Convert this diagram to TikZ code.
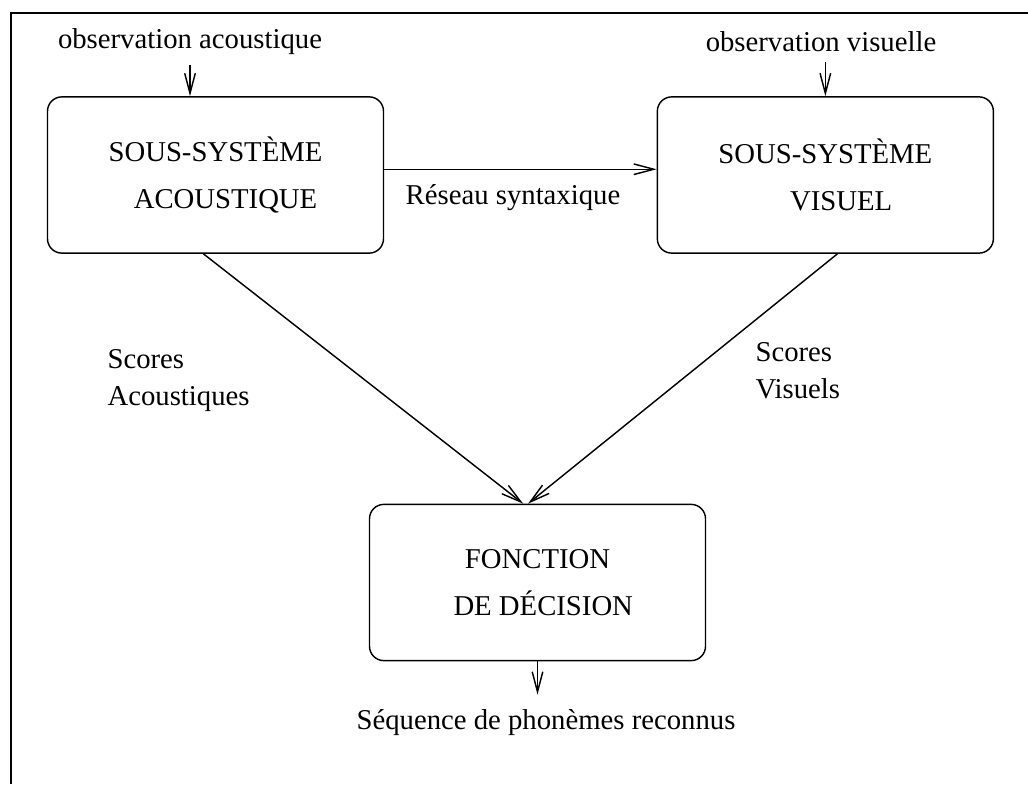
\documentclass[tikz,border=0pt]{standalone}
\usepackage{fontspec}
\setmainfont{Liberation Serif}
\usetikzlibrary{arrows.meta}
\tikzset{sysbox/.style={draw, rectangle, rounded corners=5pt,
                        minimum width=117pt, minimum height=54.4pt,
                        align=center, line width=0.5pt},
         lbl/.style={inner sep=0pt},
         flow/.style={-{Straight Barb[length=7pt,width=3.7pt]}, line width=0.5pt}}

\begin{document}
\begin{tikzpicture}[x=0.012245cm, y=-0.012245cm]
  \useasboundingbox (0,0) rectangle (1028,784);
  % cadre
  \draw[line width=0.6pt] (1028,13) -- (11,13) -- (11,784);
  % sous-systemes
  \node[sysbox] (acou) at (215.5,175) {SOUS-SYSTÈME\\[4.4pt]\hspace*{7pt}ACOUSTIQUE};
  \node[sysbox][right of=acou, node distance=7.463cm] (visu) {SOUS-SYSTÈME\\[4.4pt]\hspace*{11pt}VISUEL};
  \node[sysbox] (dec) at (537.5,582.5) {FONCTION\\[4.4pt]\hspace*{4pt}DE DÉCISION};
  % textes
  \node (obsA) at (190,42) {observation acoustique};
  \node (obsV) at (821,42) {observation visuelle};
  \node[lbl] (reseau) at (513,198) {Réseau syntaxique};
  \node[lbl, anchor=west, align=left] (scA) at (107,381) {Scores\\[0.9pt]Acoustiques};
  \node[lbl, anchor=west, align=left] (scV) at (755,371) {Scores\\[0.9pt]Visuels};
  \node[outer sep=2pt] (seq) at (546,723) {Séquence de phonèmes reconnus};
  % fleches
  \draw[flow] (obsA) -- (obsA |- acou.north);
  \draw[flow] (obsV.south -| visu.north) -- (visu.north);
  \draw[flow] ([yshift=2pt]acou.east) -- ([yshift=2pt]visu.west);
  \draw[flow] ([xshift=-4.2pt]acou.south) -- ([xshift=-5pt]dec.north);
  \draw[flow] ([xshift=4.2pt]visu.south) -- ([xshift=-3.3pt]dec.north);
  \draw[flow] (dec.south) -- (dec.south |- seq.north);
\end{tikzpicture}
\end{document}
